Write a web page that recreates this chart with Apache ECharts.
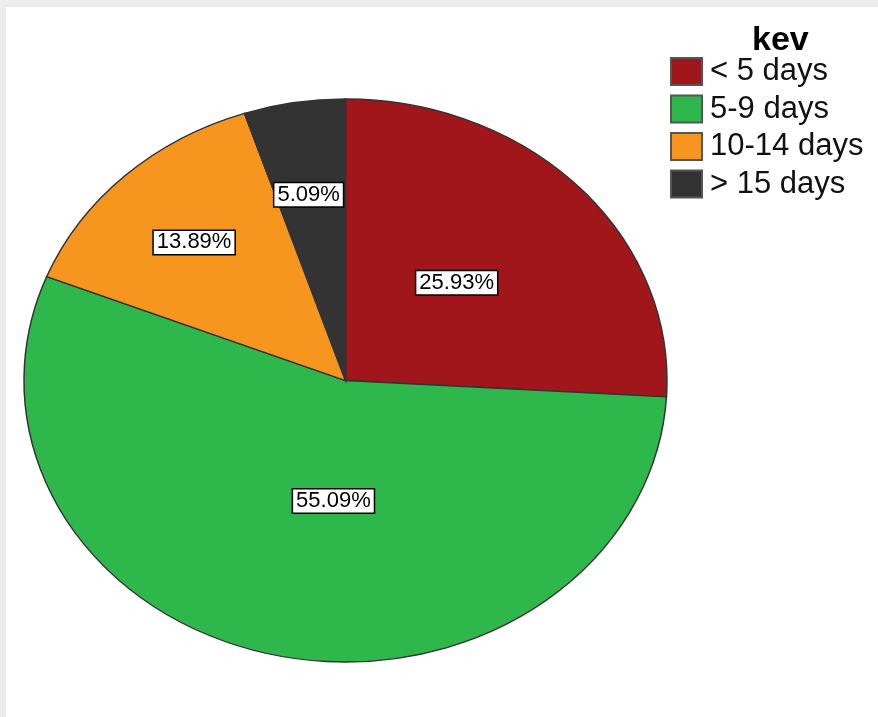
<!DOCTYPE html>
<html>
<head>
<meta charset="utf-8">
<script src="https://cdn.jsdelivr.net/npm/echarts@6/dist/echarts.min.js"></script>
<style>
html,body{margin:0;padding:0;width:878px;height:717px;overflow:hidden;background:#ececec;}
#panel{position:absolute;left:6px;top:7px;width:872px;height:710px;background:#fff;}
#chart{position:absolute;left:0;top:0;width:878px;height:717px;}
</style>
</head>
<body>
<div id="panel"></div>
<div id="chart"></div>
<script>
// ---- data ----
const legendTitle = 'kev';
const categories = ['< 5 days', '5-9 days', '10-14 days', '> 15 days'];
const values = [25.93, 55.09, 13.89, 5.09];
const labels = ['25.93%', '55.09%', '13.89%', '5.09%'];

// ---- styles / layout ----
const colors = ['#a1161b', '#2eb84b', '#f7961f', '#333333'];
const CX = 345.5, CY = 380.5, RX = 321.5, RY = 281.5;
const labelRadius = [0.49, 0.43, 0.68, 0.67];
const labelAngleShift = [1.8, 7.5, 0.5, 0.7];

const total = values.reduce((a, b) => a + b, 0);
function cumBefore(i) { let s = 0; for (let k = 0; k < i; k++) s += values[k]; return s; }

const series = categories.map((name, i) => ({
  name: name,
  type: 'custom',
  coordinateSystem: 'none',
  itemStyle: { color: colors[i], borderColor: '#444', borderWidth: 2 },
  data: [[values[i]]],
  renderItem: function (params, api) {
    const v = api.value(0);
    const c0 = cumBefore(i);
    const start = -Math.PI / 2 + 2 * Math.PI * c0 / total;
    const end = -Math.PI / 2 + 2 * Math.PI * (c0 + v) / total;
    const midDeg = 90 - 360 * (c0 + v / 2) / total + labelAngleShift[i];
    const th = midDeg * Math.PI / 180;
    const lx = CX + labelRadius[i] * RX * Math.cos(th);
    const ly = CY - labelRadius[i] * RY * Math.sin(th);
    return {
      type: 'group',
      children: [
        {
          type: 'sector',
          shape: { cx: CX, cy: CY, r: RX, r0: 0, startAngle: start, endAngle: end, clockwise: true },
          scaleY: RY / RX,
          originX: CX,
          originY: CY,
          style: { fill: colors[i], stroke: '#333', lineWidth: 1.5, strokeNoScale: true }
        },
        {
          type: 'text',
          x: lx,
          y: ly,
          z2: 10,
          style: {
            text: labels[i],
            fill: '#000',
            font: '22px "Liberation Sans", Arial, sans-serif',
            align: 'center',
            verticalAlign: 'middle',
            backgroundColor: '#fff',
            borderColor: '#000',
            borderWidth: 1.5,
            padding: [1, 3, 0, 3],
            lineHeight: 22
          }
        }
      ]
    };
  }
}));

const chart = echarts.init(document.getElementById('chart'), null, { renderer: 'canvas' });
chart.setOption({
  animation: false,
  backgroundColor: 'transparent',
  graphic: [{
    type: 'text',
    left: 752,
    top: 24,
    style: {
      text: legendTitle,
      font: 'bold 34px "Liberation Sans", Arial, sans-serif',
      fill: '#000'
    }
  }],
  legend: {
    orient: 'vertical',
    left: 665,
    top: 51,
    data: categories,
    icon: 'rect',
    itemWidth: 31,
    itemHeight: 27,
    itemGap: 6.5,
    selectedMode: false,
    itemStyle: { borderColor: '#555', borderWidth: 2 },
    textStyle: { fontFamily: '"Liberation Sans", Arial, sans-serif', fontSize: 31, color: '#111', lineHeight: 30, padding: [0, 0, 0, 3] }
  },
  series: series
});
</script>
</body>
</html>
